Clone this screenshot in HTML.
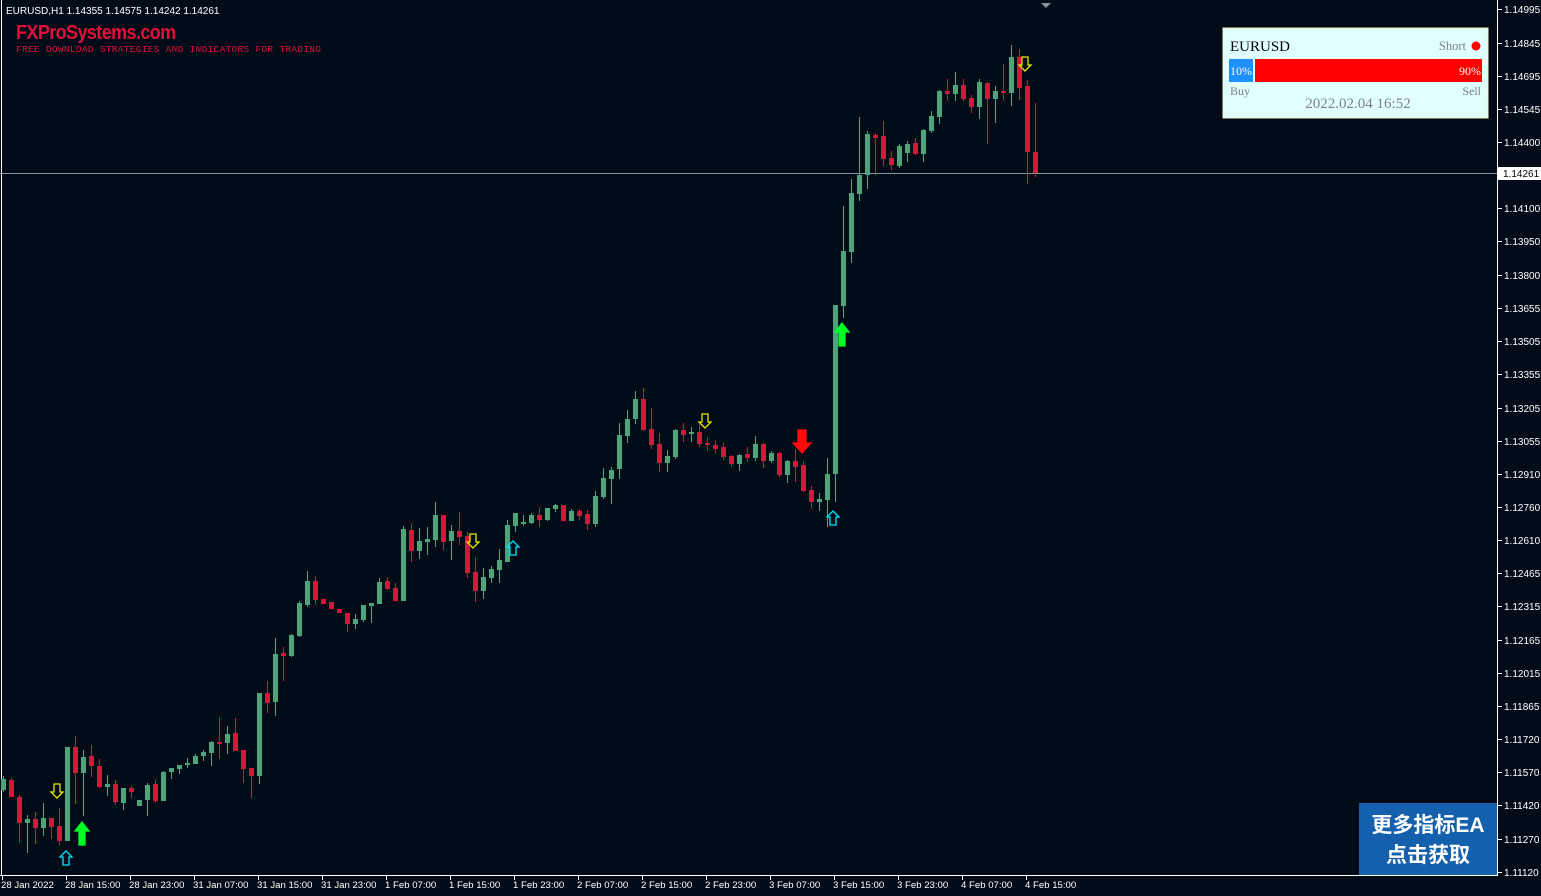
<!DOCTYPE html>
<html><head><meta charset="utf-8"><style>
body{margin:0;background:#020c18;width:1541px;height:896px;overflow:hidden;font-family:"Liberation Sans",sans-serif}
svg{display:block}
</style></head><body>
<svg id="s" width="1541" height="896" xmlns="http://www.w3.org/2000/svg">
<rect width="1541" height="896" fill="#020c18"/>
<line x1="1497.5" y1="0" x2="1497.5" y2="876" stroke="#fff"/>
<line x1="0" y1="875.5" x2="1498" y2="875.5" stroke="#fff"/>
<line x1="1.5" y1="0" x2="1.5" y2="876" stroke="#fff"/>
<line x1="0" y1="173.5" x2="1497" y2="173.5" stroke="#8a94a0"/>
<polygon points="1041,3 1051,3 1046,8" fill="#8a94a0"/>
<text x="6" y="14" fill="#fff" font-size="10">EURUSD,H1  1.14355 1.14575 1.14242 1.14261</text>
<text x="16" y="39" fill="#e0103a" font-size="20" font-weight="bold" transform="scale(0.9,1)" style="transform-origin:16px 0" textLength="178">FXProSystems.com</text>
<text x="16" y="52" fill="#e0103a" font-size="9.5" font-family="Liberation Mono,monospace" textLength="305">FREE DOWNLOAD STRATEGIES AND INDICATORS FOR TRADING</text>
<g id="c"></g>
<g id="ax" font-size="10" fill="#fff"></g>
<g stroke-width="1.3" fill="none">
<path d="M82,822 l-7,9 h4 v14 h6 v-14 h4z" fill="#00ff22" stroke="#00ff22"/>
<path d="M842,323 l-7,9 h4 v14 h6 v-14 h4z" fill="#00ff22" stroke="#00ff22"/>
<path d="M802,453 l-9,-10 h5 v-13 h8 v13 h5z" fill="#ff0a0a" stroke="#ff0a0a"/>
<path d="M66,851 l-6,6 h3 v8 h6 v-8 h3z" stroke="#00e5ff"/>
<path d="M513,541 l-6,6 h3 v8 h6 v-8 h3z" stroke="#00e5ff"/>
<path d="M833,511 l-6,6 h3 v8 h6 v-8 h3z" stroke="#00e5ff"/>
<path d="M57,798 l-6,-6 h3 v-8 h6 v8 h3z" stroke="#e8e800"/>
<path d="M473,548 l-6,-6 h3 v-8 h6 v8 h3z" stroke="#e8e800"/>
<path d="M705,428 l-6,-6 h3 v-8 h6 v8 h3z" stroke="#e8e800"/>
<path d="M1025,71 l-6,-6 h3 v-8 h6 v8 h3z" stroke="#e8e800"/>
</g>
<rect x="1223" y="28" width="265" height="90" fill="#e0ffff" stroke="#f5f0c0"/>
<text x="1230" y="51" font-family="Liberation Serif,serif" font-size="15" fill="#000">EURUSD</text>
<text x="1466" y="50" font-family="Liberation Serif,serif" font-size="12.5" fill="#808080" text-anchor="end">Short</text>
<circle cx="1476" cy="46" r="4.5" fill="#ff0000"/>
<rect x="1229" y="59" width="24" height="23" fill="#1e90ff"/>
<rect x="1255" y="59" width="227" height="23" fill="#ff0000"/>
<text x="1230" y="75" font-family="Liberation Serif,serif" font-size="12" fill="#fff">10%</text>
<text x="1481" y="75" font-family="Liberation Serif,serif" font-size="12" fill="#fff" text-anchor="end">90%</text>
<text x="1230" y="95" font-family="Liberation Serif,serif" font-size="12" fill="#808080">Buy</text>
<text x="1481" y="95" font-family="Liberation Serif,serif" font-size="12" fill="#808080" text-anchor="end">Sell</text>
<text x="1358" y="108" font-family="Liberation Serif,serif" font-size="15" fill="#808080" text-anchor="middle">2022.02.04 16:52</text>
<rect x="1359" y="803" width="138" height="72" fill="#1560ad"/>
<text x="1428" y="832" font-family="Liberation Sans,'Noto Sans CJK SC',sans-serif" font-size="21" font-weight="bold" fill="#fff" text-anchor="middle">更多指标EA</text>
<text x="1428" y="862" font-family="Liberation Sans,'Noto Sans CJK SC',sans-serif" font-size="21" font-weight="bold" fill="#fff" text-anchor="middle">点击获取</text>
</svg>
<script>
var d=[[790,779,776,792],[780,797,778,797],[797,823,795,843],[823,819,815,853],[819,828,812,844],[828,818,803,836],[818,827,818,839],[826,841,808,845],[841,747,747,841],[747,773,736,804],[773,757,750,816],[756,766,745,777],[766,787,759,788],[787,784,775,796],[784,802,780,805],[803,788,788,810],[788,792,786,798],[806,800,800,806],[800,785,783,816],[784,801,779,803],[801,772,771,801],[772,768,768,779],[769,765,765,774],[765,763,758,768],[764,756,754,763],[756,752,750,761],[753,742,741,766],[742,743,717,759],[743,734,726,754],[733,751,718,751],[750,769,750,783],[768,776,768,798],[776,693,693,784],[693,703,681,713],[702,654,638,716],[653,656,647,681],[656,635,634,657],[636,603,601,637],[605,581,571,607],[581,600,576,605],[599,604,599,604],[602,609,602,609],[609,613,609,613],[613,624,613,632],[624,619,614,629],[620,605,605,622],[606,603,603,623],[604,582,578,604],[581,589,577,590],[588,601,583,601],[601,529,526,601],[530,551,523,562],[551,541,528,559],[542,539,527,555],[540,515,502,547],[515,542,515,550],[541,531,525,560],[531,537,512,545],[536,573,532,578],[572,591,557,602],[591,577,568,599],[578,569,566,583],[570,560,549,583],[562,525,520,562],[526,513,513,532],[524,522,515,526],[523,515,513,524],[515,520,507,527],[520,508,508,521],[509,505,504,512],[505,521,505,521],[521,511,509,521],[511,516,509,520],[514,524,510,530],[524,496,491,527],[497,478,468,499],[479,470,467,504],[469,435,423,479],[436,419,410,443],[419,399,391,424],[399,430,388,431],[429,445,408,449],[444,463,433,472],[463,456,450,472],[457,430,429,459],[430,435,423,442],[434,432,427,442],[432,444,424,447],[443,445,437,451],[445,449,440,453],[447,457,443,460],[456,464,455,467],[464,455,454,471],[454,458,447,462],[458,444,436,461],[444,461,443,468],[461,453,451,463],[453,475,452,477],[475,461,460,483],[461,467,449,482],[465,491,461,492],[490,502,486,509],[502,499,493,511],[500,474,458,527],[474,305,305,502],[306,251,206,318],[252,193,179,263],[194,175,117,201],[175,134,131,189],[135,138,133,175],[136,159,121,166],[158,165,151,170],[166,146,144,168],[153,144,141,162],[143,154,138,155],[154,130,129,162],[131,116,111,133],[117,91,90,124],[91,94,79,101],[94,85,72,101],[85,99,79,101],[98,107,95,113],[107,82,79,119],[83,99,82,144],[99,91,86,123],[91,93,64,101],[93,57,45,106],[57,88,49,100],[86,152,80,184],[152,173,103,177]];
var h='';d.forEach(function(c,i){var x=3+8*i,up=c[1]<c[0],col=up?'#4ca57a':'#dc143c';var t=Math.min(c[0],c[1]),b=Math.max(c[0],c[1]);if(b-t<2)b=t+2;
h+='<line x1="'+(x+.5)+'" y1="'+c[2]+'" x2="'+(x+.5)+'" y2="'+c[3]+'" stroke="'+col+'"/><rect x="'+(x-2)+'" y="'+t+'" width="5" height="'+(b-t)+'" fill="'+col+'"/>';});
document.getElementById('c').innerHTML=h;
var p=[["1.14995",9],["1.14845",43],["1.14695",76],["1.14545",109],["1.14400",142],["1.14100",208],["1.13950",241],["1.13800",275],["1.13655",308],["1.13505",341],["1.13355",374],["1.13205",408],["1.13055",441],["1.12910",474],["1.12760",507],["1.12610",540],["1.12465",573],["1.12315",606],["1.12165",640],["1.12015",673],["1.11865",706],["1.11720",739],["1.11570",772],["1.11420",805],["1.11270",839],["1.11120",872]];
var a='';p.forEach(function(q){a+='<line x1="1498" y1="'+q[1]+'.5" x2="1502" y2="'+q[1]+'.5" stroke="#fff"/><text x="1504" y="'+(q[1]+4)+'">'+q[0]+'</text>';});
a+='<rect x="1498" y="167" width="43" height="13" fill="#fff"/><text x="1503" y="177" fill="#000">1.14261</text>';
var t=["28 Jan 2022","28 Jan 15:00","28 Jan 23:00","31 Jan 07:00","31 Jan 15:00","31 Jan 23:00","1 Feb 07:00","1 Feb 15:00","1 Feb 23:00","2 Feb 07:00","2 Feb 15:00","2 Feb 23:00","3 Feb 07:00","3 Feb 15:00","3 Feb 23:00","4 Feb 07:00","4 Feb 15:00"];
t.forEach(function(s,i){var x=2+64*i;a+='<line x1="'+(x+.5)+'" y1="876" x2="'+(x+.5)+'" y2="880" stroke="#fff"/><text x="'+(x-1)+'" y="888" font-size="9.6">'+s+'</text>';});
document.getElementById('ax').innerHTML=a;
</script>
</body></html>
